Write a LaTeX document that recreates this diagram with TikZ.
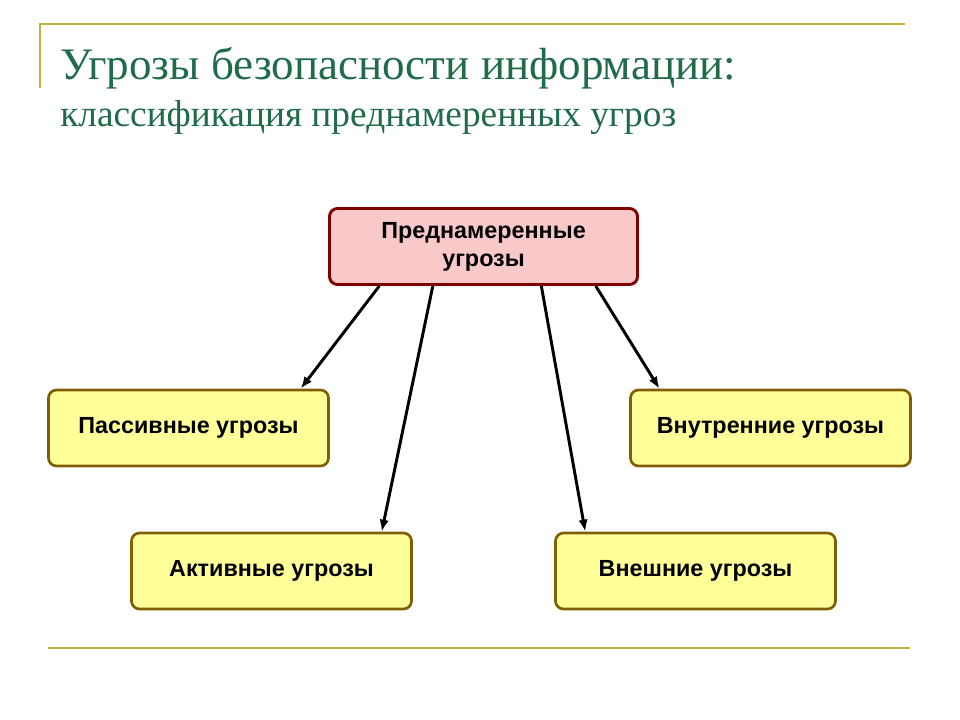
\documentclass[tikz,border=0pt]{standalone}
\usepackage{fontspec}
\setmainfont{Liberation Serif}
\newfontfamily\boxfont{Liberation Sans}
\usetikzlibrary{calc,arrows.meta}
\definecolor{titlegreen}{HTML}{1F6B4A}
\definecolor{rulegold}{HTML}{C8B040}
\definecolor{topfill}{HTML}{F9C9C9}
\definecolor{topline}{HTML}{800000}
\definecolor{subfill}{HTML}{FFFF99}
\definecolor{subline}{HTML}{7F5F00}
\tikzset{
  topbox/.style={rectangle, rounded corners=6pt, draw=topline, fill=topfill, line width=2.2pt, minimum width=231pt, minimum height=57pt, align=center, font=\boxfont\bfseries\fontsize{17.5}{21}\selectfont},
  subbox/.style={rectangle, rounded corners=6pt, draw=subline, fill=subfill, line width=2pt, minimum width=210pt, minimum height=57pt, align=center, font=\boxfont\bfseries\fontsize{17.5}{21}\selectfont},
  arr/.style={-{Latex[length=9pt,width=7pt]}, line width=2.2pt}
}
\begin{document}
\begin{tikzpicture}[x=0.75pt,y=-0.75pt]
\useasboundingbox (0,0) rectangle (960,720);

%%% frame lines
\draw [rulegold, line width=1.5pt] (40,88) -- (40,24) -- (905,24);
\draw [rulegold, line width=1.5pt] (48,648) -- (910,648);

%%% title
\node [anchor=base west, inner sep=0pt, text=titlegreen, font=\fontsize{33.8}{38}\selectfont] (title) at (60,80) {Угрозы безопасности информации:};
\node [anchor=base west, inner sep=0pt, text=titlegreen, font=\fontsize{28}{32}\selectfont] (subtitle) at (60,127) {классификация преднамеренных угроз};

%%% boxes
\node [topbox] (intent) at (483.5,246.5) {Преднамеренные\\угрозы};
\node [subbox] (passive) at (188.5,428) {Пассивные угрозы};
\node [subbox] (inner) at (770.5,428) {Внутренние угрозы};
\node [subbox] (active) at (271.5,571) {Активные угрозы};
\node [subbox] (outer) at (695.5,571) {Внешние угрозы};

%%% arrows
\draw [arr] ($(intent.south west)!0.165!(intent.south east)$) -- ($(passive.north west)!0.897!(passive.north east)$);
\draw [arr] ($(intent.south west)!0.337!(intent.south east)$) -- ($(active.north west)!0.89!(active.north east)$);
\draw [arr] ($(intent.south west)!0.686!(intent.south east)$) -- ($(outer.north west)!0.11!(outer.north east)$);
\draw [arr] ($(intent.south west)!0.861!(intent.south east)$) -- ($(inner.north west)!0.107!(inner.north east)$);

\end{tikzpicture}
\end{document}
